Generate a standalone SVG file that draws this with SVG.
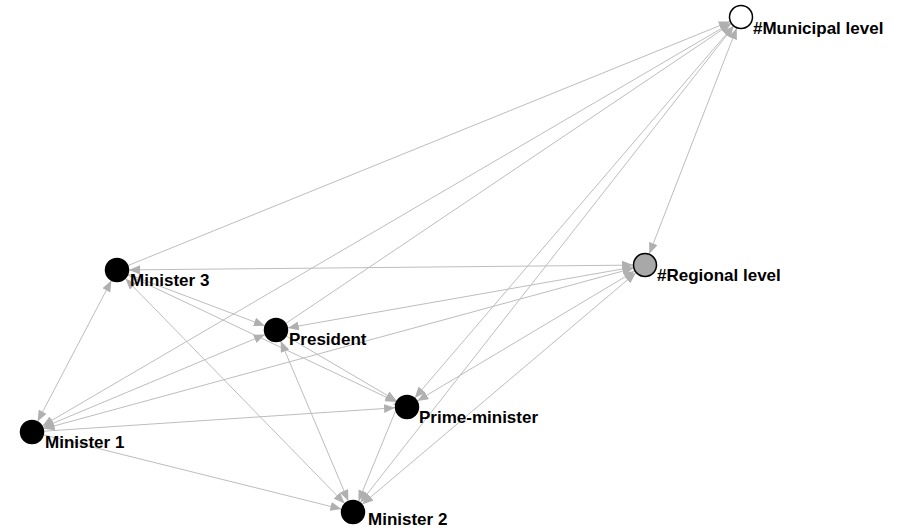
<svg xmlns="http://www.w3.org/2000/svg" width="904" height="531" viewBox="0 0 904 531">
<style>
.e{stroke:#BDBDBD;stroke-width:1;fill:none;marker-end:url(#ah)}
.b{marker-start:url(#ah)}
.n{stroke:#000;stroke-width:1.5}
.l{font-family:"Liberation Sans",Arial,sans-serif;font-weight:bold;font-size:17px;fill:#000}
</style>
<defs>
<marker id="ah" markerUnits="userSpaceOnUse" markerWidth="11" markerHeight="9" refX="11" refY="4.5" orient="auto-start-reverse">
<path d="M0,0 L11,4.5 L0,9 z" fill="#B0B0B0"/>
</marker>
</defs>
<rect width="904" height="531" fill="#fff"/>
<g id="connectors">
<line class="e" x1="128.1" y1="265.5" x2="729.9" y2="21.5"/>
<line class="e b" x1="129" y1="269.9" x2="633" y2="265.1"/>
<line class="e b" x1="37.6" y1="421.4" x2="111.4" y2="280.6"/>
<line class="e" x1="128.2" y1="274.2" x2="264.8" y2="325.8"/>
<line class="e" x1="127.9" y1="275.1" x2="396.2" y2="401.9"/>
<line class="e b" x1="125.4" y1="278.6" x2="344.6" y2="503.4"/>
<line class="e b" x1="42.4" y1="425.9" x2="730.6" y2="23.1"/>
<line class="e b" x1="43.6" y1="428.8" x2="633.4" y2="268.2"/>
<line class="e b" x1="43.1" y1="427.4" x2="264.9" y2="334.6"/>
<line class="e" x1="44" y1="431.2" x2="395" y2="407.8"/>
<line class="e" x1="43.6" y1="434.9" x2="341.4" y2="509.1"/>
<line class="e" x1="286" y1="323.3" x2="731" y2="23.7"/>
<line class="e b" x1="287.8" y1="327.9" x2="633.2" y2="267.1"/>
<line class="e" x1="286.3" y1="336.1" x2="396.7" y2="400.9"/>
<line class="e b" x1="280.7" y1="341.1" x2="348.3" y2="500.9"/>
<line class="e b" x1="414.8" y1="397.9" x2="733.2" y2="26.1"/>
<line class="e b" x1="417.3" y1="400.9" x2="634.7" y2="271.1"/>
<line class="e b" x1="358.5" y1="501.3" x2="401.5" y2="396.3"/>
<line class="e b" x1="360.4" y1="502.6" x2="733.6" y2="26.4"/>
<line class="e b" x1="362.2" y1="504.3" x2="635.8" y2="272.8"/>
<line class="e b" x1="736.7" y1="28.2" x2="649.3" y2="253.8"/>
</g>
<g id="municipal"><circle class="n" cx="741" cy="17" r="11.5" fill="#fff"/><text class="l" x="753" y="34">#Municipal level</text></g>
<g id="regional"><circle class="n" cx="645" cy="265" r="11.5" fill="#A8A8A8"/><text class="l" x="657" y="281">#Regional level</text></g>
<g id="minister3"><circle class="n" cx="117" cy="270" r="11.5" fill="#000"/><text class="l" x="130" y="286">Minister 3</text></g>
<g id="president"><circle class="n" cx="276" cy="330" r="11.5" fill="#000"/><text class="l" x="289" y="345">President</text></g>
<g id="primeminister"><circle class="n" cx="407" cy="407" r="11.5" fill="#000"/><text class="l" x="419" y="423">Prime-minister</text></g>
<g id="minister1"><circle class="n" cx="32" cy="432" r="11.5" fill="#000"/><text class="l" x="45" y="448">Minister 1</text></g>
<g id="minister2"><circle class="n" cx="353" cy="512" r="11.5" fill="#000"/><text class="l" x="368" y="525">Minister 2</text></g>
</svg>
